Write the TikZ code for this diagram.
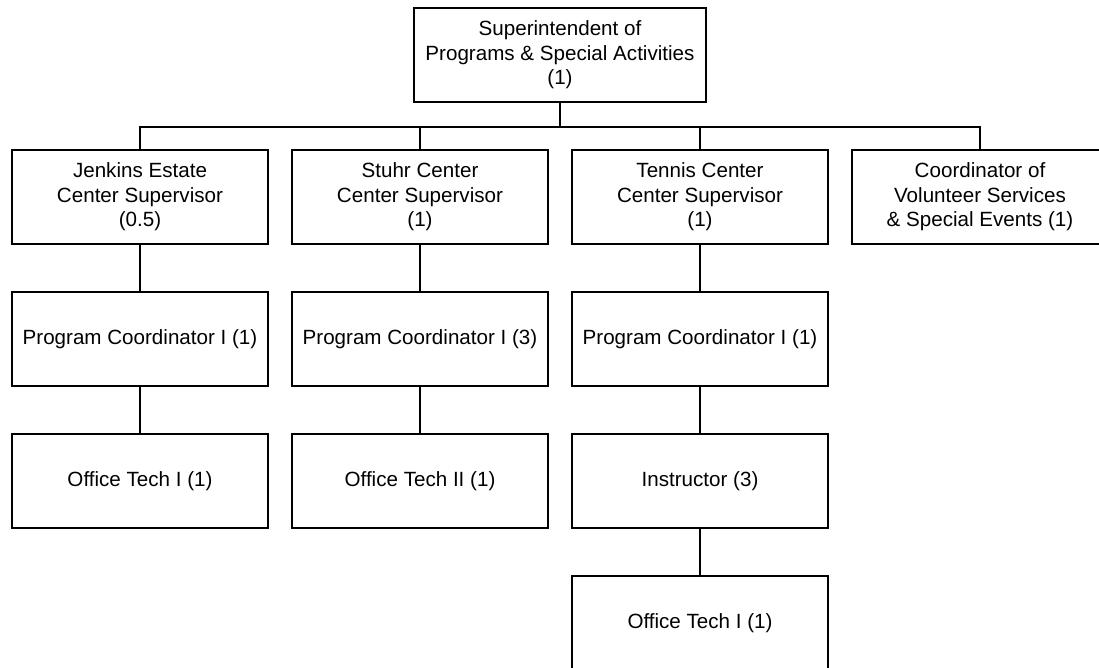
\documentclass[tikz,border=0pt]{standalone}
\usepackage{fontspec}
\setmainfont{Liberation Sans}

\begin{document}
\begin{tikzpicture}%
  [x=1pt,y=1pt,line width=1.8pt,
   level distance=142pt,
   level 1/.style={sibling distance=280pt},
   edge from parent path={(\tikzparentnode.south) -- ++(0,-24.5pt) -| (\tikzchildnode.north)}]
  \tikzstyle{post}=[rectangle,draw,minimum width=256pt,minimum height=94pt,inner sep=0,
    align=center,font=\fontsize{20.6}{24.5}\selectfont]
  \tikzstyle{head}=[post,minimum width=292pt]
  \useasboundingbox (0,0) rectangle (1099,-668);
  \node(super)[head] at (560,-55) {Superintendent of\\Programs \& Special Activities\\(1)}
    child{node(jenkins)[post]{Jenkins Estate\\Center Supervisor\\(0.5)}
      child{node(jenkinspc)[post]{Program Coordinator I (1)}
        child{node(jenkinsot)[post]{Office Tech I (1)}}}}
    child{node(stuhr)[post]{Stuhr Center\\Center Supervisor\\(1)}
      child{node(stuhrpc)[post]{Program Coordinator I (3)}
        child{node(stuhrot)[post]{Office Tech II (1)}}}}
    child{node(tennis)[post]{Tennis Center\\Center Supervisor\\(1)}
      child{node(tennispc)[post]{Program Coordinator I (1)}
        child{node(tennisin)[post]{Instructor (3)}
          child{node(tennisot)[post]{Office Tech I (1)}}}}}
    child{node(volunteer)[post]{Coordinator of\\Volunteer Services\\\& Special Events (1)}};
\end{tikzpicture}
\end{document}
